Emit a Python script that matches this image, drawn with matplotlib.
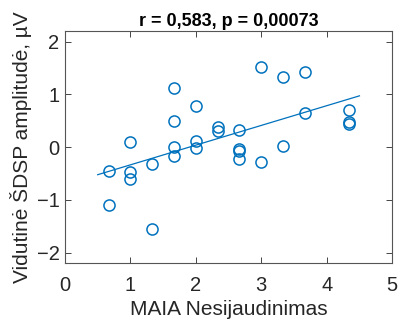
import numpy as np
import matplotlib
matplotlib.use('Agg')
import matplotlib.pyplot as plt

plt.rcParams['font.family'] = ['Liberation Sans', 'DejaVu Sans']

# MAIA score vs mean amplitude
maia = [0.667, 0.667, 1, 1, 1, 1.333, 1.333,
        1.667, 1.667, 1.667, 1.667, 2, 2, 2, 2.333, 2.333,
        2.667, 2.667, 2.667, 2.667, 3, 3, 3.333, 3.333,
        3.667, 3.667, 4.333, 4.333, 4.333]
ampl = [-0.46, -1.09, 0.09, -0.48, -0.61, -0.33, -1.55,
        1.12, 0.49, 0.0, -0.17, 0.77, 0.11, -0.02, 0.38, 0.31,
        0.32, -0.03, -0.08, -0.23, 1.52, -0.28, 1.33, 0.02,
        1.42, 0.64, 0.71, 0.48, 0.44]
title_txt = 'r = 0,583, p = 0,00073'
xlab = 'MAIA Nesijaudinimas'
ylab = 'Vidutinė ŠDSP amplitudė, µV'

x = np.array(maia)
y = np.array(ampl)
k, b = np.polyfit(x, y, 1)
xf = np.array([0.5, 4.5])

blue = '#0072BD'
grey = '#262626'

fig = plt.figure(figsize=(4.01, 3.24), dpi=100)
ax = fig.add_axes([0.162, 0.188, 0.816, 0.716])

ax.plot(x, y, 'o', mfc='none', mec=blue, ms=8, mew=1.1)
ax.plot(xf, k * xf + b, '-', color=blue, lw=0.9)

ax.set_xlim(0, 5)
ax.set_ylim(-2.2, 2.2)
ax.set_xticks([0, 1, 2, 3, 4, 5])
ax.set_yticks([-2, -1, 0, 1, 2])
ax.tick_params(direction='in', top=True, right=True, labelsize=14.5,
               colors=grey, length=4, width=0.6, pad=4)
ax.tick_params(axis='x', pad=9)
for s in ax.spines.values():
    s.set_color('#555555')
    s.set_linewidth(0.8)

ax.set_xlabel(xlab, fontsize=15, color=grey, labelpad=4)
ax.set_ylabel(ylab, fontsize=15, color=grey, labelpad=3)
ax.set_title(title_txt, fontsize=13, fontweight='bold', color='black', pad=4)

fig.savefig('out.png', dpi=100)
